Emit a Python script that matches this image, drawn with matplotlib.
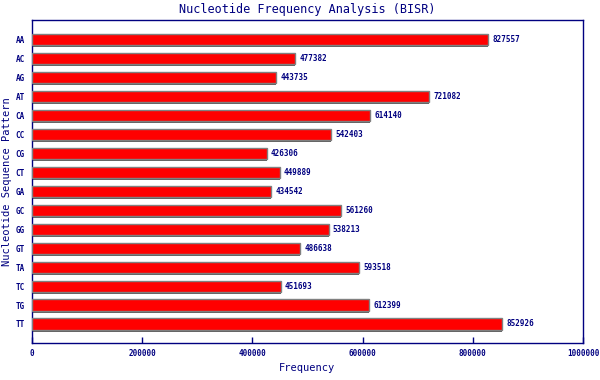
import matplotlib
matplotlib.use("Agg")
import matplotlib.pyplot as plt
from matplotlib import transforms

# nucleotide pairs and their counts
patterns = ["AA", "AC", "AG", "AT", "CA", "CC", "CG", "CT",
            "GA", "GC", "GG", "GT", "TA", "TC", "TG", "TT"]
counts = [827557, 477382, 443735, 721082, 614140, 542403, 426306, 449889,
          434542, 561260, 538213, 486638, 593518, 451693, 612399, 852926]
x_ticks = [0, 200000, 400000, 600000, 800000, 1000000]

navy = "#000080"
mono = "DejaVu Sans Mono"

fig = plt.figure(figsize=(6, 3.8), dpi=100)
ax = fig.add_axes([0.0533, 0.0974, 0.9184, 0.8496])

pos = list(range(len(patterns)))
# drop shadow a couple of pixels below each bar
shadow = transforms.offset_copy(ax.transData, fig=fig, x=0, y=-2, units="dots")
ax.barh(pos, counts, height=0.58, color="#606060", transform=shadow, zorder=2)
ax.barh(pos, counts, height=0.58, color="#ff0000", edgecolor="#808080",
        linewidth=1, zorder=3)

for y, v in zip(pos, counts):
    ax.annotate(str(v), (v, y), xytext=(3, 0), textcoords="offset points",
                va="center", ha="left", fontsize=5.5, color=navy,
                family=mono, fontweight="bold")

ax.set_xlim(0, 1000000)
ax.set_ylim(len(patterns), -1)
ax.set_yticks(pos)
ax.set_yticklabels(patterns)
ax.set_xticks(x_ticks)
ax.set_xticklabels([str(t) for t in x_ticks])
ax.tick_params(axis="y", length=0, pad=5, labelsize=5.5, labelcolor=navy)
ax.tick_params(axis="x", length=4, width=1, color=navy, direction="in",
               pad=4, labelsize=5.5, labelcolor=navy)
for lab in ax.get_xticklabels() + ax.get_yticklabels():
    lab.set_family(mono)
    lab.set_fontweight("bold")

for s in ax.spines.values():
    s.set_color(navy)
    s.set_linewidth(1)

ax.set_title("Nucleotide Frequency Analysis (BISR)", fontsize=8.5,
             color=navy, family=mono, pad=5)
ax.set_xlabel("Frequency", fontsize=7.5, color=navy, family=mono, labelpad=4)
ax.set_ylabel("Nucleotide Sequence Pattern", fontsize=7.5, color=navy,
              family=mono, labelpad=3)

fig.savefig("out.png", dpi=100)
